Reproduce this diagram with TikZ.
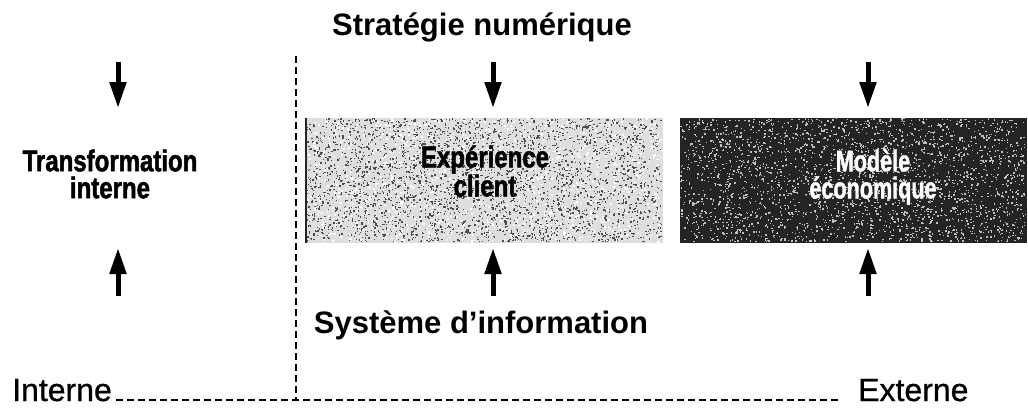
\documentclass[tikz,border=0pt]{standalone}
\usepackage{fontspec}
\setmainfont{Liberation Sans}
\newfontfamily\midfont[FakeBold=0.8]{Liberation Sans}
\newfontfamily\condfont[FakeStretch=0.8, FakeBold=1.6]{Liberation Sans}
\newfontfamily\narrowfont[FakeStretch=0.72, FakeBold=1.2]{Liberation Sans}
\usetikzlibrary{arrows.meta}

\tikzset{
  heading/.style={font=\bfseries\fontsize{31}{36}\selectfont, inner sep=0pt},
  sidelabel/.style={font=\midfont\fontsize{32}{36}\selectfont, inner sep=0pt},
  boxtext/.style={font=\condfont\bfseries\fontsize{30}{27}\selectfont, align=center, inner sep=0pt},
  darktext/.style={font=\narrowfont\bfseries\fontsize{30}{27}\selectfont, align=center, inner sep=0pt, text=white},
  flow/.style={line width=5pt, -{Triangle[length=26pt,width=16pt]}},
  divider/.style={line width=1.4pt, dash pattern=on 7pt off 4pt},
  panel/.style={rectangle, draw=none, inner sep=0pt, minimum height=125pt},
}

\begin{document}
\begin{tikzpicture}[x=1pt, y=-1pt]
  \useasboundingbox (0,0) rectangle (1028,407);

  % headings
  \node[heading, anchor=base] (strat) at (482,35) {Stratégie numérique};
  \node[heading, anchor=base] (si) at (481,333) {Système d’information};

  % the two shaded panels
  \node[panel, fill=black!13, minimum width=357pt, anchor=north west] (cx) at (306,118) {};
  \node[panel, fill=black!86, minimum width=347pt, anchor=north west] (eco) at (680,118) {};

  % speckled texture of the panels
  \pgfmathsetseed{7}
  \foreach \k in {1,...,3200}{
    \pgfmathsetmacro{\px}{306+355*rnd}
    \pgfmathsetmacro{\py}{118+123*rnd}
    \fill[black!70] (\px,\py) rectangle +(1.4,1.4);
  }
  \foreach \k in {1,...,1500}{
    \pgfmathsetmacro{\px}{306+355*rnd}
    \pgfmathsetmacro{\py}{118+123*rnd}
    \fill[white] (\px,\py) rectangle +(1.6,1.6);
  }
  \foreach \k in {1,...,2600}{
    \pgfmathsetmacro{\px}{680+345*rnd}
    \pgfmathsetmacro{\py}{118+123*rnd}
    \fill[white!75!black] (\px,\py) rectangle +(1.4,1.4);
  }
  \draw[black!85, line width=1.6pt] (cx.north west) -- (cx.south west);

  % panel and column texts
  \node[boxtext] (trans) at (110,174) {Transformation\\interne};
  \node[boxtext] (cxt) at (485,171) {Expérience\\client};
  \node[darktext] (ecot) at (873,177) {Modèle\\économique};

  % arrows from the strategy down and from the information system up
  \coordinate (d1) at (118,62);  \coordinate (t1) at (118,108);
  \coordinate (d2) at (493,62);  \coordinate (t2) at (493,108);
  \coordinate (d3) at (868,62);  \coordinate (t3) at (868,108);
  \coordinate (u1) at (118,296); \coordinate (b1) at (118,248);
  \coordinate (u2) at (493,296); \coordinate (b2) at (493,248);
  \coordinate (u3) at (868,296); \coordinate (b3) at (868,248);
  \foreach \a/\b in {d1/t1,d2/t2,d3/t3,u1/b1,u2/b2,u3/b3}
    \draw[flow] (\a) -- (\b);

  % internal / external divide
  \node[sidelabel, anchor=base west] (int) at (12,401) {Interne};
  \node[sidelabel, anchor=base west] (ext) at (858,401) {Externe};
  \coordinate (vtop) at (296,56);
  \coordinate (vbot) at (296,400);
  \draw[divider] (vtop) -- (vbot);
  \draw[divider] (int.base east) ++(4,-1) coordinate (hstart) -- (840,400) coordinate (hend);
\end{tikzpicture}
\end{document}
